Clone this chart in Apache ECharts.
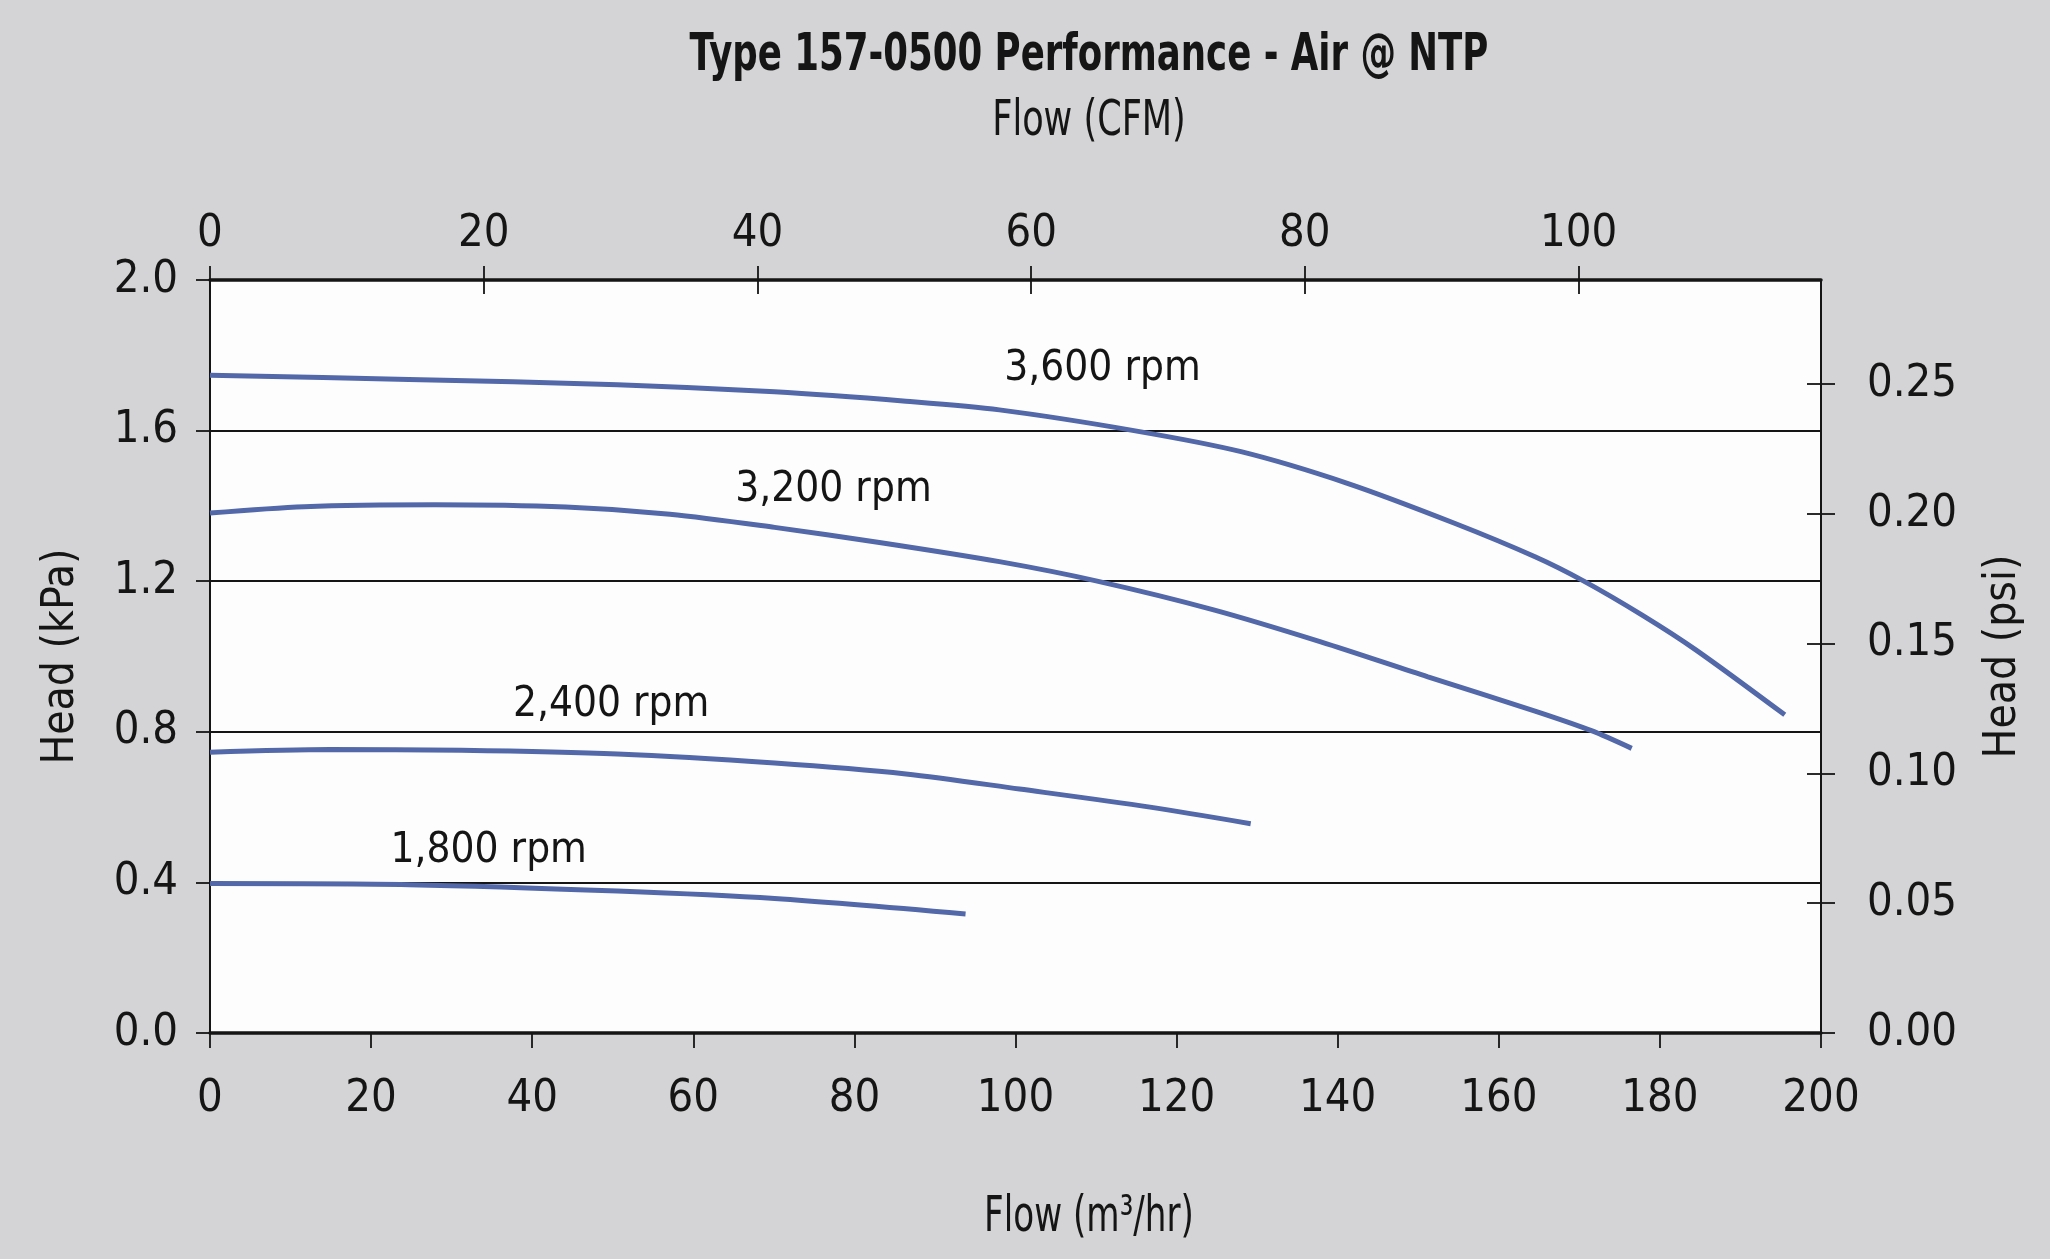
<!DOCTYPE html>
<html lang="en">
<head>
  <meta charset="UTF-8">
  <title>Type 157-0500 Performance</title>
  <style>
    html, body { margin: 0; padding: 0; background: #d4d3d5; }
    #main { width: 2050px; height: 1259px; }
  </style>
</head>
<body>
  <div id="main"></div>
</body>
<script src="https://cdnjs.cloudflare.com/ajax/libs/echarts/6.0.0/echarts.min.js"></script>
<script>
  // flow in m3/hr, head in kPa
  const flow3600 = [0, 24.7, 50.6, 70.1, 86.4, 98.0, 114.7, 128.0, 141.2, 154.5, 164.5, 170.5, 177.8, 184.5, 195.5];
  const head3600 = [1.747, 1.736, 1.722, 1.703, 1.678, 1.655, 1.600, 1.544, 1.460, 1.354, 1.265, 1.201, 1.110, 1.017, 0.845];

  const flow3200 = [0, 11.7, 27.9, 44.2, 57.1, 70.1, 83.1, 98.0, 110.0, 124.6, 137.9, 151.2, 164.5, 171.5, 176.5];
  const head3200 = [1.381, 1.398, 1.403, 1.397, 1.378, 1.343, 1.303, 1.252, 1.201, 1.124, 1.039, 0.946, 0.855, 0.803, 0.756];

  const flow2400 = [0, 14.9, 31.2, 50.6, 70.1, 86.4, 100.5, 116.7, 129.2];
  const head2400 = [0.746, 0.753, 0.751, 0.741, 0.717, 0.688, 0.648, 0.600, 0.556];

  const flow1800 = [0, 24.7, 50.6, 70.1, 93.8];
  const head1800 = [0.397, 0.394, 0.377, 0.357, 0.316];

  const curveNames = ['3,600 rpm', '3,200 rpm', '2,400 rpm', '1,800 rpm'];
  const labelFlow = [110.8, 77.4, 49.8, 34.6];
  const labelHead = [1.764, 1.442, 0.872, 0.483];

  const cfmTicks = [0, 20, 40, 60, 80, 100];
  const psiTicks = [0, 0.05, 0.10, 0.15, 0.20, 0.25];

  const M3H_TO_CFM = 0.588578;
  const KPA_TO_PSI = 0.145038;

  const FONT = "'DejaVu Sans Condensed', 'Liberation Sans Narrow', 'Liberation Sans', sans-serif";
  const INK = '#151515';
  const LINE = '#5268a8';
  const TICK = { color: INK, width: 1.8 };

  function pairs(xs, ys) {
    return xs.map((x, i) => [x, ys[i]]);
  }

  function curve(xs, ys) {
    return {
      type: 'line',
      data: pairs(xs, ys),
      smooth: 0.3,
      showSymbol: false,
      lineStyle: { color: LINE, width: 5 },
      z: 5
    };
  }

  function headline(text, y, size, weight, sx) {
    return {
      type: 'text', x: 1089, y: y, scaleX: sx, originX: 0,
      style: {
        text: text, font: weight + ' ' + size + 'px ' + FONT, fill: INK,
        textAlign: 'center', textVerticalAlign: 'middle'
      }
    };
  }

  const chart = echarts.init(document.getElementById('main'));

  const gridBox = { left: 210, right: 229, top: 280, bottom: 226 };

  chart.setOption({
    backgroundColor: '#d4d3d5',
    animation: false,
    textStyle: { fontFamily: FONT },
    grid: [
      Object.assign({ show: true, backgroundColor: '#fdfdfe', borderWidth: 0 }, gridBox),
      Object.assign({ show: false }, gridBox)
    ],
    graphic: [
      headline('Type 157-0500 Performance - Air @ NTP', 56, 52, 'bold', 0.76),
      headline('Flow (CFM)', 122, 50, 'normal', 0.78),
      headline('Flow (m³/hr)', 1218, 50, 'normal', 0.76)
    ],
    xAxis: [
      {
        type: 'value', gridIndex: 0, position: 'bottom', min: 0, max: 200, interval: 20,
        axisLine: { show: true, onZero: false, lineStyle: { color: INK, width: 3.5 } },
        axisTick: { show: true, length: 15, lineStyle: TICK },
        axisLabel: { color: INK, fontSize: 45, margin: 44, fontFamily: FONT },
        splitLine: { show: false }
      },
      {
        type: 'value', gridIndex: 0, position: 'top', min: 0, max: 200 * M3H_TO_CFM, interval: 20,
        axisLine: { show: true, onZero: false, lineStyle: { color: INK, width: 3.5 } },
        axisTick: { show: true, length: 14, customValues: cfmTicks, lineStyle: TICK },
        axisLabel: { color: INK, fontSize: 45, margin: 23, fontFamily: FONT, customValues: cfmTicks },
        splitLine: { show: false }
      },
      {
        type: 'value', gridIndex: 1, position: 'top', min: 0, max: 200 * M3H_TO_CFM, interval: 20,
        axisLine: { show: false, onZero: false },
        axisTick: { show: true, inside: true, length: 14, customValues: cfmTicks, lineStyle: TICK },
        axisLabel: { show: false },
        splitLine: { show: false }
      }
    ],
    yAxis: [
      {
        type: 'value', gridIndex: 0, position: 'left', min: 0, max: 2, interval: 0.4,
        name: 'Head (kPa)', nameLocation: 'middle', nameGap: 126, nameRotate: 90,
        nameTextStyle: { color: INK, fontSize: 44, fontFamily: FONT },
        axisLine: { show: true, onZero: false, lineStyle: { color: INK, width: 2 } },
        axisTick: { show: true, length: 14, lineStyle: TICK },
        axisLabel: { color: INK, fontSize: 45, margin: 32, fontFamily: FONT,
          formatter: v => v.toFixed(1) },
        splitLine: { show: true, lineStyle: { color: INK, width: 2.2 } }
      },
      {
        type: 'value', gridIndex: 0, position: 'right', min: 0, max: 2 * KPA_TO_PSI, interval: 0.05,
        name: 'Head (psi)', nameLocation: 'middle', nameGap: 161, nameRotate: 90,
        nameTextStyle: { color: INK, fontSize: 44, fontFamily: FONT },
        axisLine: { show: true, onZero: false, lineStyle: { color: INK, width: 2 } },
        axisTick: { show: true, length: 14, customValues: psiTicks, lineStyle: TICK },
        axisLabel: { color: INK, fontSize: 45, margin: 46, fontFamily: FONT, customValues: psiTicks,
          formatter: v => v.toFixed(2) },
        splitLine: { show: false }
      },
      {
        type: 'value', gridIndex: 1, position: 'right', min: 0, max: 2 * KPA_TO_PSI, interval: 0.05,
        axisLine: { show: false, onZero: false },
        axisTick: { show: true, inside: true, length: 14, customValues: psiTicks, lineStyle: TICK },
        axisLabel: { show: false },
        splitLine: { show: false }
      }
    ],
    series: [
      curve(flow3600, head3600),
      curve(flow3200, head3200),
      curve(flow2400, head2400),
      curve(flow1800, head1800),
      {
        type: 'scatter',
        symbolSize: 0,
        itemStyle: { opacity: 1 },
        data: curveNames.map((n, i) => ({ name: n, value: [labelFlow[i], labelHead[i]] })),
        label: {
          show: true, position: 'inside', formatter: '{b}',
          color: INK, fontSize: 42, fontFamily: FONT
        },
        z: 6
      }
    ]
  });
</script>
</html>
